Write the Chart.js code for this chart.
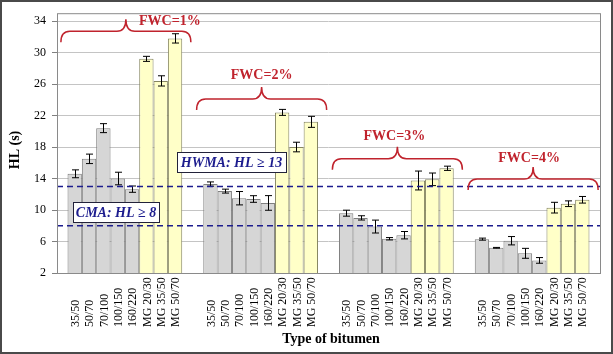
<!DOCTYPE html>
<html>
<head>
<meta charset="utf-8">
<script src="https://cdn.jsdelivr.net/npm/chart.js@4.4.1/dist/chart.umd.min.js"></script>
<style>
  html, body { margin: 0; padding: 0; background: #fff; }
  #wrap { width: 613px; height: 354px; }
</style>
</head>
<body>
<div id="wrap"><canvas id="hlChart" width="613" height="354"></canvas></div>
<script>
// Data

const fwcGroups = ['FWC=1%', 'FWC=2%', 'FWC=3%', 'FWC=4%'];
const bitumens = ['35/50', '50/70', '70/100', '100/150', '160/220', 'MG 20/30', 'MG 35/50', 'MG 50/70'];

// HL (s) for each bitumen, one array per FWC group
const hlFwc1 = [14.6, 16.5, 20.4, 14.0, 12.65, 29.2, 26.4, 31.8];
const hlFwc2 = [13.3, 12.4, 11.5, 11.4, 10.9, 22.4, 18.0, 21.2];
const hlFwc3 = [9.6, 9.0, 7.9, 6.35, 6.8, 13.75, 13.9, 15.3];
const hlFwc4 = [6.3, 5.2, 6.1, 4.5, 3.6, 10.3, 10.8, 11.3];

// error bar half lengths
const errFwc1 = [0.5, 0.6, 0.57, 0.8, 0.4, 0.32, 0.65, 0.59];
const errFwc2 = [0.27, 0.25, 0.85, 0.42, 0.93, 0.38, 0.61, 0.7];
const errFwc3 = [0.38, 0.27, 0.82, 0.15, 0.47, 1.2, 0.8, 0.27];
const errFwc4 = [0.13, 0.05, 0.53, 0.63, 0.36, 0.68, 0.36, 0.42];

// limits drawn as dashed lines
const limitValues = [13, 8];
const limitTexts = ['HWMA: HL \u2265 13', 'CMA: HL \u2265 8'];

const yTicks = [2, 6, 10, 14, 18, 22, 26, 30, 34];

const hlRows = [hlFwc1, hlFwc2, hlFwc3, hlFwc4];
const errRows = [errFwc1, errFwc2, errFwc3, errFwc4];

const datasets = bitumens.map((name, i) => {
    const mg = name.startsWith('MG');
    return {
        label: name,
        data: hlRows.map(r => r[i]),
        errors: errRows.map(r => r[i]),
        backgroundColor: mg ? '#ffffc8' : '#d6d6d6',
        borderColor: mg ? '#858560' : '#7f7f7f',
        borderWidth: 1,
        borderSkipped: 'start'
    };
});

const serif = '"Liberation Serif", "DejaVu Serif", serif';
const red = '#c0232d';
const navy = '#1c1c8e';

// braces above each group: level (in HL units) and label position
const braceLevels = [32.7, 24.1, 16.5, 13.95];
const braceTextDx = [44, 0, -3, -4];
const braceTextDy = [-10, -24, -22, -21];

function drawBrace(ctx, x0, x1, y) {
    const cx = (x0 + x1) / 2;
    ctx.beginPath();
    ctx.moveTo(x0, y + 11);
    ctx.quadraticCurveTo(x0, y, x0 + 9, y);
    ctx.lineTo(cx - 9, y);
    ctx.quadraticCurveTo(cx, y, cx, y - 12);
    ctx.quadraticCurveTo(cx, y, cx + 9, y);
    ctx.lineTo(x1 - 9, y);
    ctx.quadraticCurveTo(x1, y, x1, y + 11);
    ctx.stroke();
}

const decorations = {
    id: 'decorations',
    beforeDraw(chart) {
        const ctx = chart.ctx;
        ctx.save();
        ctx.fillStyle = '#fff';
        ctx.fillRect(0, 0, chart.width, chart.height);
        ctx.restore();
    },
    afterDatasetsDraw(chart) {
        const ctx = chart.ctx;
        const y = chart.scales.y;
        const area = chart.chartArea;
        ctx.save();
        // error bars
        ctx.strokeStyle = '#000';
        ctx.lineWidth = 1;
        chart.data.datasets.forEach((ds, di) => {
            const meta = chart.getDatasetMeta(di);
            meta.data.forEach((bar, j) => {
                const v = ds.data[j];
                const e = ds.errors[j];
                const x = Math.round(bar.x) + 0.5;
                const yt = y.getPixelForValue(v + e);
                const yb = y.getPixelForValue(v - e);
                ctx.beginPath();
                ctx.moveTo(x, yt); ctx.lineTo(x, yb);
                ctx.moveTo(x - 3.5, yt); ctx.lineTo(x + 3.5, yt);
                ctx.moveTo(x - 3.5, yb); ctx.lineTo(x + 3.5, yb);
                ctx.stroke();
            });
        });
        // dashed limits
        ctx.strokeStyle = navy;
        ctx.lineWidth = 1.5;
        ctx.setLineDash([6, 4]);
        limitValues.forEach(v => {
            const py = y.getPixelForValue(v);
            ctx.beginPath();
            ctx.moveTo(area.left, py);
            ctx.lineTo(area.right, py);
            ctx.stroke();
        });
        ctx.restore();
    },
    afterDraw(chart) {
        const ctx = chart.ctx;
        const y = chart.scales.y;
        const area = chart.chartArea;
        ctx.save();

        // plot area border
        ctx.strokeStyle = '#8a8a8a';
        ctx.lineWidth = 1;
        ctx.strokeRect(area.left + 0.5, area.top + 0.5, area.right - area.left, area.bottom - area.top);

        // limit boxes
        const boxes = [[177, 152, 109, 20], [73, 202, 86, 20]];
        ctx.font = 'italic bold 14px ' + serif;
        ctx.textAlign = 'center';
        ctx.textBaseline = 'middle';
        boxes.forEach((b, i) => {
            ctx.fillStyle = '#fff';
            ctx.fillRect(b[0], b[1], b[2], b[3]);
            ctx.strokeStyle = '#22223a';
            ctx.lineWidth = 1;
            ctx.strokeRect(b[0] + 0.5, b[1] + 0.5, b[2], b[3]);
            ctx.fillStyle = navy;
            ctx.fillText(limitTexts[i], b[0] + b[2] / 2, b[1] + b[3] / 2 + 1);
        });

        // braces and FWC labels
        const first = chart.getDatasetMeta(0).data;
        const last = chart.getDatasetMeta(bitumens.length - 1).data;
        ctx.strokeStyle = red;
        ctx.lineWidth = 1.5;
        ctx.fillStyle = red;
        ctx.font = 'bold 14px ' + serif;
        fwcGroups.forEach((g, i) => {
            const cx = (first[i].x + last[i].x) / 2 + 1;
            const py = y.getPixelForValue(braceLevels[i]);
            drawBrace(ctx, cx - 65, cx + 65, py);
            ctx.fillText(g, cx + braceTextDx[i], py + braceTextDy[i]);
        });

        // bitumen labels under each bar
        ctx.fillStyle = '#000';
        ctx.font = '12px ' + serif;
        ctx.textAlign = 'left';
        ctx.textBaseline = 'middle';
        chart.data.datasets.forEach((ds, di) => {
            chart.getDatasetMeta(di).data.forEach(bar => {
                ctx.save();
                ctx.translate(bar.x + 1, 327);
                ctx.rotate(-Math.PI / 2);
                ctx.fillText(ds.label, 0, 0);
                ctx.restore();
            });
        });

        // axis titles
        ctx.font = 'bold 14px ' + serif;
        ctx.textAlign = 'center';
        ctx.textBaseline = 'alphabetic';
        ctx.fillText('Type of bitumen', 331, 343);
        ctx.save();
        ctx.translate(19, 150);
        ctx.rotate(-Math.PI / 2);
        ctx.fillText('HL (s)', 0, 0);
        ctx.restore();

        // outer frame
        ctx.strokeStyle = '#4a4a4a';
        ctx.lineWidth = 2;
        ctx.strokeRect(1, 1, chart.width - 2, chart.height - 2);
        ctx.restore();
    }
};

const config = {
    type: 'bar',
    data: {
        labels: fwcGroups,
        datasets: datasets
    },
    options: {
        responsive: false,
        animation: false,
        layout: {
            padding: { left: 0, right: 13, top: 13, bottom: 0 }
        },
        datasets: {
            bar: {
                categoryPercentage: 0.845,
                barPercentage: 1.0
            }
        },
        scales: {
            x: {
                grid: { display: false },
                border: { display: false },
                ticks: { display: false },
                afterFit(scale) { scale.height = 81; }
            },
            y: {
                min: 2,
                max: 35,
                border: { display: false },
                grid: {
                    color: '#c4c4c4',
                    tickColor: '#808080',
                    tickLength: 5
                },
                ticks: {
                    includeBounds: false,
                    stepSize: 4,
                    padding: 6,
                    color: '#000',
                    font: { family: serif, size: 12 }
                },
                afterBuildTicks(scale) {
                    scale.ticks = yTicks.map(v => ({ value: v }));
                },
                afterFit(scale) { scale.width = 57; }
            }
        },
        plugins: {
            legend: { display: false },
            tooltip: { enabled: false }
        }
    },
    plugins: [decorations]
};

// Render the chart
const hlChart = new Chart(document.getElementById('hlChart'), config);
</script>
</body>
</html>
